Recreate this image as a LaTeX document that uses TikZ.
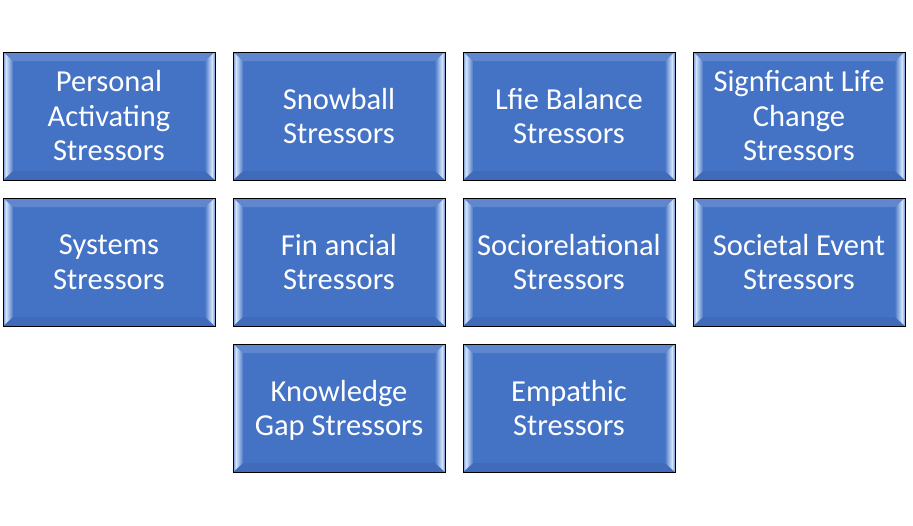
\documentclass[tikz,border=0pt]{standalone}
\usepackage{fontspec}
\setmainfont{Carlito}
\definecolor{boxblue}{HTML}{4472C4}
\definecolor{bevlight}{HTML}{D2E3FA}
\definecolor{bevtop}{HTML}{5F87D0}
\definecolor{bevbot}{HTML}{3F6BBA}
\tikzset{
  stressbox/.style={draw=black, line width=1pt, fill=boxblue, minimum width=212pt, minimum height=128pt,
    inner sep=0pt, align=center, text=white, font=\fontsize{30.5}{34.5}\selectfont,
    path picture={
      \coordinate (nw) at (path picture bounding box.north west);
      \coordinate (ne) at (path picture bounding box.north east);
      \coordinate (sw) at (path picture bounding box.south west);
      \coordinate (se) at (path picture bounding box.south east);
      \fill[bevtop] (nw) -- (ne) -- ([shift={(-10pt,-9pt)}]ne) -- ([shift={(10pt,-9pt)}]nw) -- cycle;
      \fill[bevbot] (sw) -- (se) -- ([shift={(-10pt,9pt)}]se) -- ([shift={(10pt,9pt)}]sw) -- cycle;
      \shade[left color=bevlight, right color=boxblue!95!white]
        ([shift={(3pt,-2.7pt)}]nw) -- ([shift={(10pt,-9pt)}]nw) -- ([shift={(10pt,9pt)}]sw) -- ([shift={(3pt,2.7pt)}]sw) -- cycle;
      \shade[left color=boxblue!70!bevlight, right color=bevlight]
        (nw) -- ([shift={(3pt,-2.7pt)}]nw) -- ([shift={(3pt,2.7pt)}]sw) -- (sw) -- cycle;
      \shade[right color=bevlight, left color=boxblue!95!white]
        ([shift={(-3pt,-2.7pt)}]ne) -- ([shift={(-10pt,-9pt)}]ne) -- ([shift={(-10pt,9pt)}]se) -- ([shift={(-3pt,2.7pt)}]se) -- cycle;
      \shade[right color=boxblue!70!bevlight, left color=bevlight]
        (ne) -- ([shift={(-3pt,-2.7pt)}]ne) -- ([shift={(-3pt,2.7pt)}]se) -- (se) -- cycle;
    }}
}
\begin{document}
\begin{tikzpicture}[x=1pt,y=-1pt]
\useasboundingbox (0,0) rectangle (913,525);
\node[stressbox] (n1) at (109,116) {Personal\\Activating\\Stressors};
\node[stressbox] (n2) at (339,116) {Snowball\\Stressors};
\node[stressbox] (n3) at (569,116) {Lfie Balance\\Stressors};
\node[stressbox] (n4) at (799,116) {Signficant Life\\Change\\Stressors};
\node[stressbox] (n5) at (109,262) {Systems\\Stressors};
\node[stressbox] (n6) at (339,262) {Fin ancial\\Stressors};
\node[stressbox] (n7) at (569,262) {Sociorelational\\Stressors};
\node[stressbox] (n8) at (799,262) {Societal Event\\Stressors};
\node[stressbox] (n9) at (339,408) {Knowledge\\Ga\smash{p} Stressors};
\node[stressbox] (n10) at (569,408) {Empathic\\Stressors};
\end{tikzpicture}
\end{document}
